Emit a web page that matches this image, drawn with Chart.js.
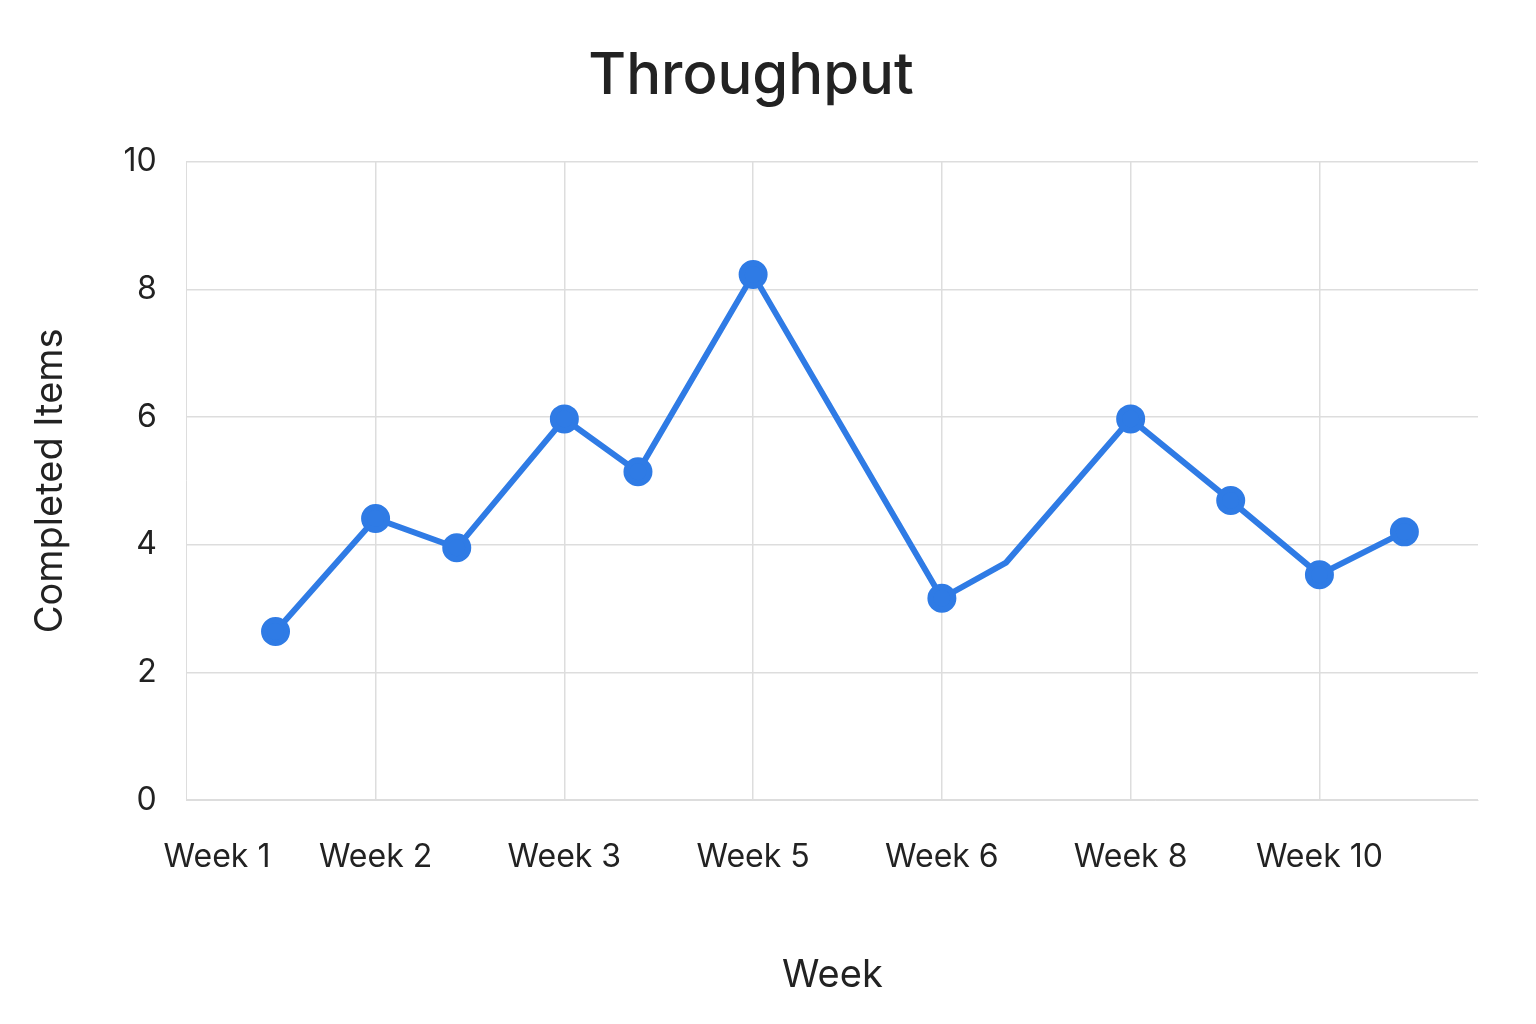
<!DOCTYPE html>
<html><head><meta charset="utf-8">
<script src="https://cdn.jsdelivr.net/npm/chart.js@4"></script>
<style>html,body{margin:0;background:#fff}#wrap{width:1536px;height:1024px}</style>
</head><body><div id="wrap"><canvas id="c" width="1536" height="1024"></canvas></div>
<script>
const xPositions=[0.47,1.0,1.43,2.0,2.39,3.0,4.0,4.34,5.0,5.53,6.0,6.45];
const completed=[2.64,4.41,3.95,5.97,5.14,8.23,3.16,3.72,5.97,4.69,3.53,4.2];
const markerShown=[1,1,1,1,1,1,1,0,1,1,1,1];
const xTickValues=[0.16,1,2,3,4,5,6];
const xTickLabels=["Week 1","Week 2","Week 3","Week 5","Week 6","Week 8","Week 10"];
const yTicks=[0,2,4,6,8,10];
const F="'Inter','Noto Sans',sans-serif";
new Chart(document.getElementById('c'),{
 type:'line',
 data:{datasets:[{data:xPositions.map((x,i)=>({x,y:completed[i]})),
  borderColor:'#2f7be5',backgroundColor:'#2f7be5',borderWidth:6,
  pointRadius:markerShown.map(m=>m?11.5:0),pointHoverRadius:markerShown.map(m=>m?11.5:0),tension:0}]},
 options:{responsive:false,animation:false,
  layout:{padding:{top:22,right:58,bottom:22,left:24}},
  plugins:{legend:{display:false},tooltip:{enabled:false},
   title:{display:true,text:'Throughput',color:'#222',font:{family:F,size:58,weight:'500'},padding:{top:20,bottom:50}}},
  scales:{
   x:{type:'linear',min:0,max:6.84,
    afterBuildTicks:a=>{a.ticks=xTickValues.map(v=>({value:v}));},
    ticks:{callback:(v,i)=>xTickLabels[i],color:'#222',font:{family:F,size:32},padding:38,maxRotation:0,autoSkip:false},
    grid:{color:c=>c.index===0?'rgba(0,0,0,0)':'#dddddd',lineWidth:1.5,drawTicks:false},
    border:{color:'#dddddd'},
    title:{display:true,text:'Week',color:'#222',font:{family:F,size:38},padding:{top:38}}},
   y:{min:0,max:10,
    afterBuildTicks:a=>{a.ticks=yTicks.map(v=>({value:v}));},
    ticks:{color:'#222',font:{family:F,size:32},padding:30},
    grid:{color:'#dddddd',lineWidth:1.5,drawTicks:false},
    border:{color:'#dddddd'},
    title:{display:true,text:'Completed Items',color:'#222',font:{family:F,size:38},padding:{bottom:20}}}
  }}
});
</script></body></html>
